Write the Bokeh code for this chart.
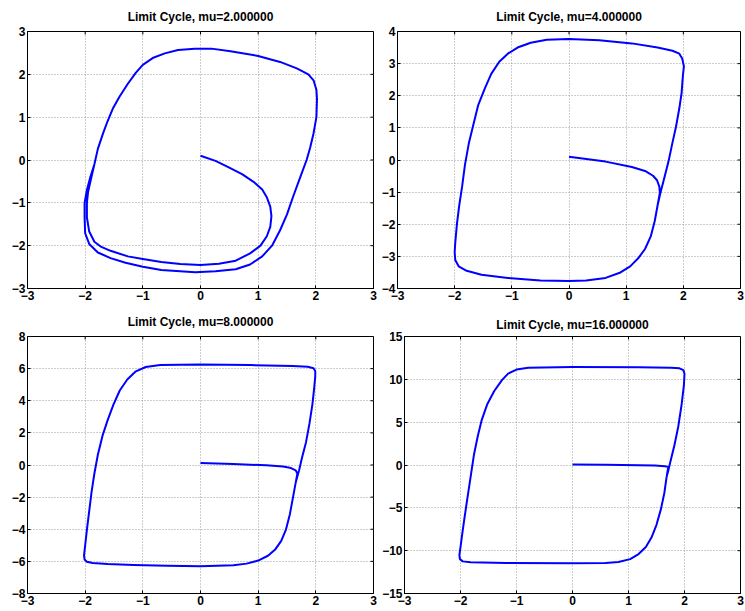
import math
from bokeh.plotting import figure
from bokeh.models import Range1d, FixedTicker, CustomJSTickFormatter
from bokeh.layouts import column, row
from bokeh.embed import file_html
from bokeh.resources import INLINE

# ---- data ----
titles = ["Limit Cycle, mu=2.000000", "Limit Cycle, mu=4.000000",
          "Limit Cycle, mu=8.000000", "Limit Cycle, mu=16.000000"]

x_ticks = [-3, -2, -1, 0, 1, 2, 3]
y_ticks_mu2 = [-3, -2, -1, 0, 1, 2, 3]
y_ticks_mu4 = [-4, -3, -2, -1, 0, 1, 2, 3, 4]
y_ticks_mu8 = [-8, -6, -4, -2, 0, 2, 4, 6, 8]
y_ticks_mu16 = [-15, -10, -5, 0, 5, 10, 15]

x_mu2 = [0.0, 0.26, 0.49, 0.72, 0.92, 1.07, 1.15, 1.21, 1.23, 1.21, 1.15, 1.04, 0.86, 0.61, 0.32,
         0.0, -0.35, -0.68, -1.0, -1.26, -1.56, -1.72, -1.84, -1.93, -1.97, -1.97, -1.95, -1.90,
         -1.84, -1.78, -1.69, -1.61, -1.52, -1.40, -1.26, -1.12, -1.0, -0.83, -0.62, -0.39, -0.10,
         0.19, 0.52, 1.0, 1.38, 1.67, 1.87, 1.96, 2.01, 2.02, 2.01, 1.96, 1.90, 1.84, 1.73, 1.61,
         1.50, 1.38, 1.24, 1.07, 0.86, 0.61, 0.26, -0.09, -0.68, -1.0, -1.30, -1.56, -1.78, -1.93,
         -2.0, -2.01, -2.01, -1.97, -1.91, -1.84, -1.78]
y_mu2 = [0.10, -0.02, -0.17, -0.33, -0.51, -0.69, -0.87, -1.09, -1.31, -1.56, -1.78, -2.0, -2.18,
         -2.35, -2.42, -2.45, -2.43, -2.38, -2.31, -2.25, -2.12, -2.03, -1.91, -1.67, -1.34, -1.0,
         -0.75, -0.45, -0.10, 0.26, 0.62, 0.91, 1.20, 1.49, 1.78, 2.04, 2.22, 2.38, 2.49, 2.57,
         2.60, 2.60, 2.54, 2.43, 2.29, 2.14, 2.0, 1.86, 1.64, 1.42, 1.0, 0.62, 0.28, 0.0, -0.40,
         -0.84, -1.27, -1.64, -2.0, -2.25, -2.44, -2.55, -2.60, -2.62, -2.57, -2.49, -2.40, -2.29,
         -2.16, -1.96, -1.71, -1.34, -1.0, -0.70, -0.40, -0.10, 0.26]

x_mu4 = [0.0, 0.64, 1.10, 1.33, 1.47, 1.54, 1.58, 1.59, 1.55, 1.50, 1.43, 1.33, 1.21, 1.07, 0.90,
         0.64, 0.30, 0.0, -0.50, -1.07, -1.53, -1.79, -1.93, -1.99, -2.0, -1.99, -1.96, -1.92,
         -1.87, -1.82, -1.75, -1.67, -1.59, -1.47, -1.36, -1.22, -1.07, -0.90, -0.67, -0.39, 0.0,
         0.53, 1.10, 1.55, 1.81, 1.93, 1.98, 2.01, 1.99, 1.97, 1.93, 1.87, 1.81, 1.74, 1.67, 1.60,
         1.55]
y_mu4 = [0.10, -0.05, -0.22, -0.34, -0.49, -0.63, -0.83, -1.02, -1.41, -1.90, -2.38, -2.77, -3.06,
         -3.31, -3.50, -3.67, -3.75, -3.77, -3.75, -3.67, -3.57, -3.45, -3.31, -3.11, -2.87, -2.58,
         -1.99, -1.41, -0.83, -0.15, 0.54, 1.12, 1.70, 2.24, 2.68, 3.06, 3.31, 3.50, 3.65, 3.74,
         3.77, 3.73, 3.63, 3.50, 3.40, 3.31, 3.16, 2.92, 2.58, 2.09, 1.61, 1.02, 0.54, -0.05,
         -0.54, -1.02, -1.41]

x_mu8 = [0.0, 0.57, 1.14, 1.43, 1.57, 1.65, 1.68, 1.65, 1.60, 1.55, 1.48, 1.40, 1.30, 1.17, 1.0,
         0.80, 0.57, 0.0, -0.58, -1.16, -1.61, -1.87, -1.97, -2.01, -2.02, -2.0, -1.97, -1.93,
         -1.89, -1.84, -1.78, -1.70, -1.61, -1.51, -1.40, -1.27, -1.13, -0.95, -0.70, 0.0, 0.86,
         1.60, 1.86, 1.96, 1.99, 1.99, 1.97, 1.94, 1.89, 1.83, 1.76, 1.71, 1.68, 1.65]
y_mu8 = [0.12, 0.06, -0.02, -0.10, -0.19, -0.33, -0.53, -1.11, -2.09, -3.06, -4.04, -4.72, -5.24,
         -5.65, -5.95, -6.14, -6.24, -6.30, -6.28, -6.22, -6.16, -6.10, -6.02, -5.89, -5.63, -5.01,
         -4.04, -2.87, -1.70, -0.53, 0.64, 1.81, 2.79, 3.76, 4.64, 5.32, 5.81, 6.10, 6.22, 6.26,
         6.22, 6.16, 6.12, 6.02, 5.85, 5.52, 4.74, 3.76, 2.59, 1.42, 0.45, -0.33, -0.72, -1.11]

x_mu16 = [0.0, 0.59, 1.18, 1.47, 1.65, 1.71, 1.68, 1.64, 1.58, 1.50, 1.41, 1.31, 1.18, 1.03, 0.82,
          0.59, 0.0, -1.18, -1.82, -1.96, -2.01, -2.02, -2.0, -1.97, -1.93, -1.88, -1.82, -1.76,
          -1.69, -1.62, -1.52, -1.40, -1.26, -1.15, -1.0, -0.79, 0.0, 1.18, 1.76, 1.91, 1.98, 2.0,
          1.99, 1.95, 1.89, 1.82, 1.75, 1.71, 1.68]
y_mu16 = [0.07, 0.04, -0.04, -0.07, -0.15, -0.22, -1.41, -3.27, -5.12, -6.98, -8.47, -9.58, -10.4,
          -10.99, -11.33, -11.44, -11.47, -11.44, -11.36, -11.25, -10.99, -10.51, -9.58, -8.09,
          -6.24, -4.01, -1.41, 1.19, 3.42, 5.27, 7.13, 8.61, 9.91, 10.66, 11.14, 11.36, 11.44,
          11.40, 11.36, 11.29, 11.07, 10.66, 9.36, 7.13, 4.53, 2.30, 0.45, -0.67, -1.41]

series = [(x_mu2, y_mu2, (-3, 3), y_ticks_mu2),
          (x_mu4, y_mu4, (-4, 4), y_ticks_mu4),
          (x_mu8, y_mu8, (-8, 8), y_ticks_mu8),
          (x_mu16, y_mu16, (-15, 15), y_ticks_mu16)]

FONT = "Liberation Sans"
fmt_code = "return tick < 0 ? '\\u2212' + String(-tick) : String(tick);"

# layout (px): (left, right, top, bottom) borders, frame width/height, title standoff
borders = [(27, 5, 30, 16), (19, 4, 30, 16), (27, 5, 31, 16), (26, 4, 32, 16)]
frame_w = [346, 343, 346, 336]
frame_h = [258, 258, 258, 257]
title_standoff = [15, 15, 16, 9]


def style_axis(ax, ticks):
    ax.ticker = FixedTicker(ticks=ticks)
    ax.formatter = CustomJSTickFormatter(code=fmt_code)
    ax.major_tick_in = 3
    ax.major_tick_out = 0
    ax.minor_tick_in = 0
    ax.minor_tick_out = 0
    ax.axis_line_color = "black"
    ax.major_tick_line_color = "black"
    ax.major_label_text_font = FONT
    ax.major_label_text_font_style = "bold"
    ax.major_label_text_color = "black"
    ax.major_label_text_font_size = "12px"
    ax.major_label_standoff = 2


figs = []
for i, (xs, ys, yr, yt) in enumerate(series):
    bl, br, bt, bb = borders[i]
    p = figure(width=bl + frame_w[i] + br, height=bt + frame_h[i] + bb,
               output_backend="svg", toolbar_location=None,
               x_range=Range1d(-3, 3), y_range=Range1d(*yr),
               min_border_left=bl, min_border_right=br,
               min_border_top=bt, min_border_bottom=bb)
    p.title.text = titles[i]
    p.title.align = "center"
    p.title.text_font = FONT
    p.title.text_font_size = "12px"
    p.title.text_font_style = "bold"
    p.title.text_color = "black"
    p.title.standoff = title_standoff[i]
    p.outline_line_color = "black"
    p.outline_line_width = 1
    p.outline_line_alpha = 1
    p.background_fill_color = "white"
    p.border_fill_color = "white"

    style_axis(p.xaxis[0], x_ticks)
    style_axis(p.yaxis[0], yt)

    p.xgrid.ticker = FixedTicker(ticks=x_ticks)
    p.ygrid.ticker = FixedTicker(ticks=yt)
    for g in (p.xgrid[0], p.ygrid[0]):
        g.grid_line_color = "#9a9a9a"
        g.grid_line_dash = "1 2"
        g.grid_line_width = 1
        g.grid_line_alpha = 1

    # inward tick marks on the top and right edges of the box
    p.ray(x=x_ticks, y=[yr[1]] * len(x_ticks), length=3, length_units="screen",
          angle=-math.pi / 2, line_color="black", line_width=1)
    p.ray(x=[3] * len(yt), y=yt, length=3, length_units="screen",
          angle=math.pi, line_color="black", line_width=1)

    p.line(xs, ys, line_color="#0000ff", line_width=2, line_join="round")
    figs.append(p)

layout = column(row(figs[0], figs[1]), row(figs[2], figs[3]))
open("out.html", "w").write(file_html(layout, INLINE))
